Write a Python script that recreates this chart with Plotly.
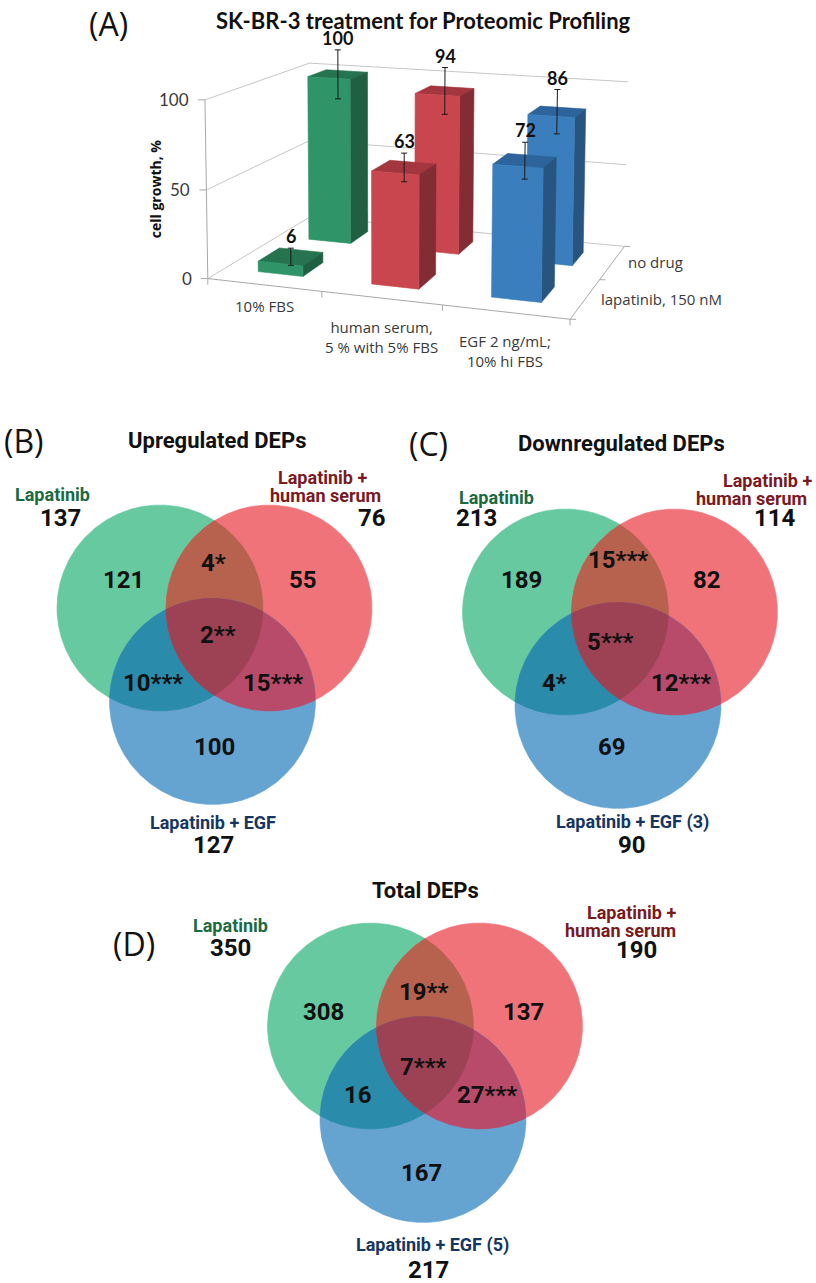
import numpy as np
import plotly.graph_objects as go

# ---------------- Data: panel A (3D bar chart) ----------------
categories = ["10% FBS", "human serum,<br>5 % with 5% FBS", "EGF 2 ng/mL;<br>10% hi FBS"]
series_names = ["lapatinib, 150 nM", "no drug"]
growth_lapatinib = [6, 63, 72]
growth_no_drug = [100, 94, 86]
err_lapatinib = [5, 8, 10]
err_no_drug = [15, 14, 13]
y_ticks = [0, 50, 100]
chart_title = "SK-BR-3 treatment for Proteomic Profiling"
y_title = "cell growth, %"

# ---------------- Data: Venn panels ----------------
venn_titles = ["Upregulated DEPs", "Downregulated DEPs", "Total DEPs"]
venn_letters = ["(B)", "(C)", "(D)"]
set_labels_up = ["Lapatinib", "Lapatinib +<br>human serum", "Lapatinib + EGF"]
set_labels_down = ["Lapatinib", "Lapatinib +<br>human serum", "Lapatinib + EGF (3)"]
set_labels_total = ["Lapatinib", "Lapatinib +<br>human serum", "Lapatinib + EGF (5)"]
totals_up = [137, 76, 127]
totals_down = [213, 114, 90]
totals_total = [350, 190, 217]
# region order: A only, B only, C only, A&B, A&C, B&C, A&B&C
counts_up = [121, 55, 100, 4, 10, 15, 2]
sig_up = ["", "", "", "*", "***", "***", "**"]
counts_down = [189, 82, 69, 15, 4, 12, 5]
sig_down = ["", "", "", "***", "*", "***", "***"]
counts_total = [308, 137, 167, 19, 16, 27, 7]
sig_total = ["", "", "", "**", "", "***", "***"]

# ---------------- Styles / layout constants ----------------
W, H = 816, 1283
BAR_COLORS = [  # (front, side, top)
    ("#2f9468", "#215f43", "#25744f"),
    ("#c9464f", "#832c33", "#a3363f"),
    ("#3a7ebd", "#27557f", "#2c649b"),
]
GRID = "#c6c6c6"
AXIS = "#a8a8a8"
TXT_A = "#3a3a3a"
CALIBRI_LIKE = "Lato, Open Sans, sans-serif"
SANS = "Open Sans, sans-serif"
ROBOTO = "Roboto, sans-serif"

# calibration of the oblique 3D frame: world (category, value, depth) -> page pixel
calib_world = [(0, 0, 0), (1, 0, 0), (2, 0, 0), (3, 0, 0), (3, 0, 1), (3, 0, 2), (0, 0, 2),
               (0, 50, 0), (0, 100, 0), (0, 100, 2), (0, 50, 2), (3, 100, 2), (3, 50, 2),
               (0.3, 100, 1.3), (2.3, 86, 1.3), (2.3, 72, 0.3), (1.3, 63, 0.3), (0.3, 6, 0.3),
               (1.3, 94, 1.3), (0.3, 0, 1.3)]
calib_px = [(206, 278), (323, 292), (442, 306), (569, 320), (601, 280), (624, 245), (310, 218),
            (205, 189), (205, 101), (310, 64), (310, 141), (628, 82), (626, 164),
            (308, 75), (528, 115), (492, 165), (372, 172), (262, 258),
            (415, 92), (308, 240)]


def fit_camera(world, px):
    w = np.asarray(world, float).copy()
    w[:, 1] = w[:, 1] / 50.0
    p = np.asarray(px, float)
    mu = p.mean(axis=0)
    s = 200.0
    q = (p - mu) / s
    rows = []
    for (X, Y, Z), (u, v) in zip(w, q):
        rows.append([X, Y, Z, 1, 0, 0, 0, 0, -u * X, -u * Y, -u * Z, -u])
        rows.append([0, 0, 0, 0, X, Y, Z, 1, -v * X, -v * Y, -v * Z, -v])
    _, _, vt = np.linalg.svd(np.array(rows))
    P = vt[-1].reshape(3, 4)

    def proj(X, V, Z):
        h = P @ np.array([X, V / 50.0, Z, 1.0])
        return mu[0] + s * h[0] / h[2], mu[1] + s * h[1] / h[2]
    return proj


proj = fit_camera(calib_world, calib_px)

fig = go.Figure()
annotations = []


def poly(points, color):
    xs = [p[0] for p in points] + [points[0][0]]
    ys = [p[1] for p in points] + [points[0][1]]
    fig.add_trace(go.Scatter(x=xs, y=ys, mode="lines", fill="toself", fillcolor=color,
                             line=dict(color=color, width=0.6), hoverinfo="skip", showlegend=False))


def lines(segments, color, width=1.0):
    xs, ys = [], []
    for a, b in segments:
        xs += [a[0], b[0], None]
        ys += [a[1], b[1], None]
    fig.add_trace(go.Scatter(x=xs, y=ys, mode="lines", line=dict(color=color, width=width),
                             hoverinfo="skip", showlegend=False))


# ---- walls / gridlines ----
n_cat = len(categories)
n_ser = len(series_names)
grid = []
for v in y_ticks:
    grid.append((proj(0, v, 0), proj(0, v, n_ser)))
    grid.append((proj(0, v, n_ser), proj(n_cat, v, n_ser)))
lines(grid, GRID)
ax = [(proj(0, 0, 0), proj(0, max(y_ticks), 0)),
      (proj(0, 0, 0), proj(n_cat, 0, 0)),
      (proj(n_cat, 0, 0), proj(n_cat, 0, n_ser))]
for v in y_ticks:
    p = proj(0, v, 0)
    ax.append((p, (p[0] - 7, p[1])))
for i in range(n_cat + 1):
    p = proj(i, 0, 0)
    ax.append((p, (p[0], p[1] + 6)))
for k in range(n_ser + 1):
    p = proj(n_cat, 0, k)
    ax.append((p, (p[0] + 6, p[1])))
lines(ax, AXIS)

# ---- bars (back row first) ----
values = [growth_lapatinib, growth_no_drug]
errors = [err_lapatinib, err_no_drug]
half_w, half_d = 0.2, 0.2
for s in reversed(range(n_ser)):
    for i in range(n_cat):
        v = values[s][i]
        front, side, top = BAR_COLORS[i]
        x0, x1 = i + 0.5 - half_w, i + 0.5 + half_w
        z0, z1 = s + 0.5 - half_d, s + 0.5 + half_d
        poly([proj(x0, v, z0), proj(x1, v, z0), proj(x1, v, z1), proj(x0, v, z1)], top)
        poly([proj(x1, 0, z0), proj(x1, 0, z1), proj(x1, v, z1), proj(x1, v, z0)], side)
        poly([proj(x0, 0, z0), proj(x1, 0, z0), proj(x1, v, z0), proj(x0, v, z0)], front)
    segs = []
    for i in range(n_cat):
        v = values[s][i]
        e = errors[s][i]
        lo = proj(i + 0.5, v - e, s + 0.5)
        hi = proj(i + 0.5, v + e, s + 0.5)
        segs += [(lo, hi), ((lo[0] - 3, lo[1]), (lo[0] + 3, lo[1])), ((hi[0] - 3, hi[1]), (hi[0] + 3, hi[1]))]
    lines(segs, "#1a1a1a", 1.0)
    for i in range(n_cat):
        v = values[s][i]
        e = errors[s][i]
        hx, hy = proj(i + 0.5, v + e, s + 0.5)
        annotations.append(dict(x=hx, y=hy, text="<b>%d</b>" % v, showarrow=False, yanchor="bottom",
                                yshift=-1, font=dict(family=CALIBRI_LIKE, size=18, color="#111111")))

# ---- axis texts of panel A ----
for v in y_ticks:
    px_, py_ = proj(0, v, 0)
    annotations.append(dict(x=px_, y=py_, text=str(v), showarrow=False, xanchor="right", xshift=-14,
                            font=dict(family=CALIBRI_LIKE, size=17, color=TXT_A)))
cat_offsets = [21, 39, 39]
for i, c in enumerate(categories):
    px_, py_ = proj(i + 0.5, 0, 0)
    annotations.append(dict(x=px_, y=py_ + cat_offsets[i], text=c, showarrow=False,
                            font=dict(family=SANS, size=15, color=TXT_A)))
for k, sname in enumerate(series_names):
    px_, py_ = proj(n_cat, 0, k + 0.5)
    annotations.append(dict(x=px_, y=py_, text=sname, showarrow=False, xanchor="left", xshift=14,
                            font=dict(family=SANS, size=15, color=TXT_A)))
yt_top = proj(0, max(y_ticks), 0)
yt_bot = proj(0, 0, 0)
annotations.append(dict(x=yt_top[0] - 50, y=(yt_top[1] + yt_bot[1]) / 2, text="<b>" + y_title + "</b>",
                        showarrow=False, textangle=-90, font=dict(family=SANS, size=14, color="#111111")))
annotations.append(dict(x=423, y=20, text="<b>" + chart_title + "</b>", showarrow=False,
                        font=dict(family=CALIBRI_LIKE, size=22, color="#111111")))
annotations.append(dict(x=108, y=23, text="(A)", showarrow=False,
                        font=dict(family=SANS, size=32, color="#111111")))

# ---------------- Venn panels ----------------
R = 103.0
DX = 109.0
BLUE_OFF = (52.5, 93.5)
CIRCLE_COLORS = ["#66c9a0", "#f1737a", "#65a3d1"]
PAIR_COLORS = {(0, 1): "#b7614f", (0, 2): "#2a8bab", (1, 2): "#b84b6a"}
TRIPLE_COLOR = "#9d4255"
LABEL_COLORS = ["#1c6a42", "#7a1a1f", "#17365f"]

panel_origin = [(160, 608), (565.5, 612), (370.5, 1026)]
title_pos = [(217, 440), (621, 443), (425, 890)]
letter_pos = [(24, 440), (428, 443), (134, 943)]
set_label_pos = [
    [[(52, 494)], [(322, 477), (325, 495)], [(213, 822)]],
    [[(496, 497)], [(767, 480), (751, 498)], [(632, 822)]],
    [[(230, 925)], [(631, 912), (620, 930)], [(432, 1245)]],
]
total_pos = [
    [(60, 518), (372, 518), (213, 845)],
    [(476, 518), (775, 518), (632, 845)],
    [(230, 948), (636, 950), (428, 1270)],
]
region_pos = [
    [(123, 580), (303, 580), (214, 747), (213, 563), (153, 683), (273, 683), (218, 635)],
    [(521, 580), (707, 580), (612, 747), (618, 560), (554, 683), (681, 683), (610, 642)],
    [(323, 1012), (523, 1012), (421, 1173), (423, 992), (358, 1095), (487, 1095), (423, 1067)],
]

venn_sets = [
    (set_labels_up, totals_up, counts_up, sig_up),
    (set_labels_down, totals_down, counts_down, sig_down),
    (set_labels_total, totals_total, counts_total, sig_total),
]


def disc_intersection(discs, n=1440):
    pts = []
    th = np.linspace(0, 2 * np.pi, n, endpoint=False)
    for j, (cx, cy, r) in enumerate(discs):
        px_ = cx + r * np.cos(th)
        py_ = cy + r * np.sin(th)
        m = np.ones(n, bool)
        for k, (ox, oy, orr) in enumerate(discs):
            if k != j:
                m &= (px_ - ox) ** 2 + (py_ - oy) ** 2 <= orr ** 2 + 1e-6
        pts += list(zip(px_[m], py_[m]))
    pts = np.array(pts)
    c = pts.mean(axis=0)
    order = np.argsort(np.arctan2(pts[:, 1] - c[1], pts[:, 0] - c[0]))
    return [tuple(p) for p in pts[order]]


for pi, (labels, totals, counts, sigs) in enumerate(venn_sets):
    ox, oy = panel_origin[pi]
    discs = [(ox, oy, R), (ox + DX, oy, R), (ox + BLUE_OFF[0], oy + BLUE_OFF[1], R)]
    for j in range(3):
        poly(disc_intersection([discs[j]]), CIRCLE_COLORS[j])
    for (a, b), col in PAIR_COLORS.items():
        poly(disc_intersection([discs[a], discs[b]]), col)
    poly(disc_intersection(discs), TRIPLE_COLOR)

    tx, ty = title_pos[pi]
    annotations.append(dict(x=tx, y=ty, text="<b>" + venn_titles[pi] + "</b>", showarrow=False,
                            font=dict(family=ROBOTO, size=22, color="#111111")))
    lx, ly = letter_pos[pi]
    annotations.append(dict(x=lx, y=ly, text=venn_letters[pi], showarrow=False,
                            font=dict(family=SANS, size=32, color="#111111")))
    for j in range(3):
        parts = labels[j].split("<br>")
        for part, (sx, sy) in zip(parts, set_label_pos[pi][j]):
            annotations.append(dict(x=sx, y=sy, text="<b>" + part + "</b>", showarrow=False,
                                    font=dict(family=ROBOTO, size=18, color=LABEL_COLORS[j])))
        qx, qy = total_pos[pi][j]
        annotations.append(dict(x=qx, y=qy, text="<b>%d</b>" % totals[j], showarrow=False,
                                font=dict(family=ROBOTO, size=24, color="#111111")))
    for r_i in range(7):
        rx, ry = region_pos[pi][r_i]
        annotations.append(dict(x=rx, y=ry, text="<b>%d%s</b>" % (counts[r_i], sigs[r_i]), showarrow=False,
                                font=dict(family=ROBOTO, size=24, color="#111111")))

fig.update_layout(
    width=W, height=H, margin=dict(l=0, r=0, t=0, b=0),
    paper_bgcolor="white", plot_bgcolor="white", hovermode=False,
    xaxis=dict(range=[0, W], visible=False, fixedrange=True),
    yaxis=dict(range=[H, 0], visible=False, fixedrange=True),
    annotations=annotations, showlegend=False,
)
fig.write_html("out.html", config={"staticPlot": True},
               post_script="document.body.style.margin='0px';document.body.style.overflow='hidden';")
